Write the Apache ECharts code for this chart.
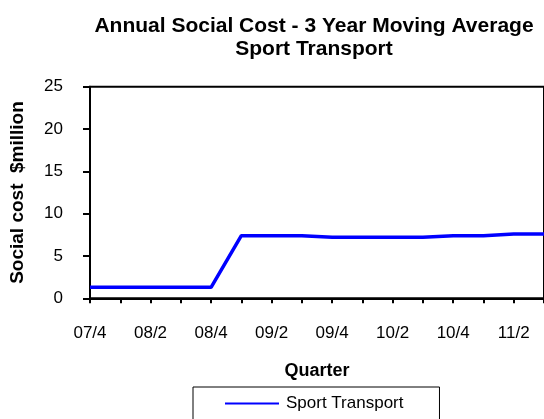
<!DOCTYPE html>
<html>
<head>
<meta charset="utf-8">
<script src="https://cdn.jsdelivr.net/npm/echarts@6/dist/echarts.min.js"></script>
<style>
  html, body { margin: 0; padding: 0; background: #fff; }
  #chart { width: 544px; height: 419px; }
</style>
</head>
<body>
<div id="chart"></div>
<script>
// quarters (label shown every second one)
var quarters = ['07/4', '08/1', '08/2', '08/3', '08/4', '09/1', '09/2', '09/3',
  '09/4', '10/1', '10/2', '10/3', '10/4', '11/1', '11/2', '11/3'];
// 3 year moving average, $million
var sportTransport = [1.3, 1.3, 1.3, 1.3, 1.3, 7.4, 7.4, 7.4,
  7.2, 7.2, 7.2, 7.2, 7.4, 7.4, 7.6, 7.6];
var yTicks = [0, 5, 10, 15, 20, 25];

var font = 'Liberation Sans, Arial, sans-serif';
var chart = echarts.init(document.getElementById('chart'));

var option = {
  animation: false,
  backgroundColor: '#fff',
  textStyle: { fontFamily: font, color: '#000' },
  title: {
    text: 'Annual Social Cost - 3 Year Moving Average\nSport Transport',
    left: 309,
    top: 10,
    textAlign: 'center',
    textStyle: {
      fontFamily: font,
      fontSize: 21,
      fontWeight: 'bold',
      color: '#000',
      lineHeight: 23
    }
  },
  legend: {
    data: ['Sport Transport'],
    left: 193,
    top: 387,
    orient: 'horizontal',
    borderColor: '#000',
    borderWidth: 1,
    padding: [8, 36, 8, 32],
    icon: 'rect',
    itemWidth: 54,
    itemHeight: 2,
    itemGap: 10,
    textStyle: { fontFamily: font, fontSize: 17, color: '#000', padding: [0, 0, 0, 2] }
  },
  grid: {
    left: 90,
    top: 86.7,
    bottom: 120.7,
    right: -4.5,
    show: true,
    borderColor: '#000',
    borderWidth: 2,
    containLabel: false
  },
  xAxis: {
    type: 'category',
    data: quarters,
    boundaryGap: false,
    name: 'Quarter',
    nameLocation: 'middle',
    nameGap: 64,
    nameTextStyle: { fontFamily: font, fontSize: 18, fontWeight: 'bold', color: '#000' },
    axisLine: { lineStyle: { color: '#000', width: 2 } },
    axisTick: { show: true, interval: 0, length: 5, lineStyle: { color: '#000', width: 2 } },
    axisLabel: { interval: 1, margin: 27, fontFamily: font, fontSize: 17, color: '#000' },
    splitLine: { show: false }
  },
  yAxis: {
    type: 'value',
    min: yTicks[0],
    max: yTicks[yTicks.length - 1],
    interval: 5,
    name: 'Social cost  $million',
    nameLocation: 'middle',
    nameGap: 63,
    nameTextStyle: { fontFamily: font, fontSize: 19, fontWeight: 'bold', color: '#000' },
    axisLine: { show: true, lineStyle: { color: '#000', width: 2 } },
    axisTick: { show: true, length: 7, lineStyle: { color: '#000', width: 2 } },
    axisLabel: { margin: 27, fontFamily: font, fontSize: 17, color: '#000' },
    splitLine: { show: false }
  },
  series: [{
    name: 'Sport Transport',
    type: 'line',
    data: sportTransport,
    showSymbol: false,
    symbol: 'none',
    color: '#0000FF',
    lineStyle: { color: '#0000FF', width: 3.5 }
  }]
};

chart.setOption(option);
</script>
</body>
</html>
